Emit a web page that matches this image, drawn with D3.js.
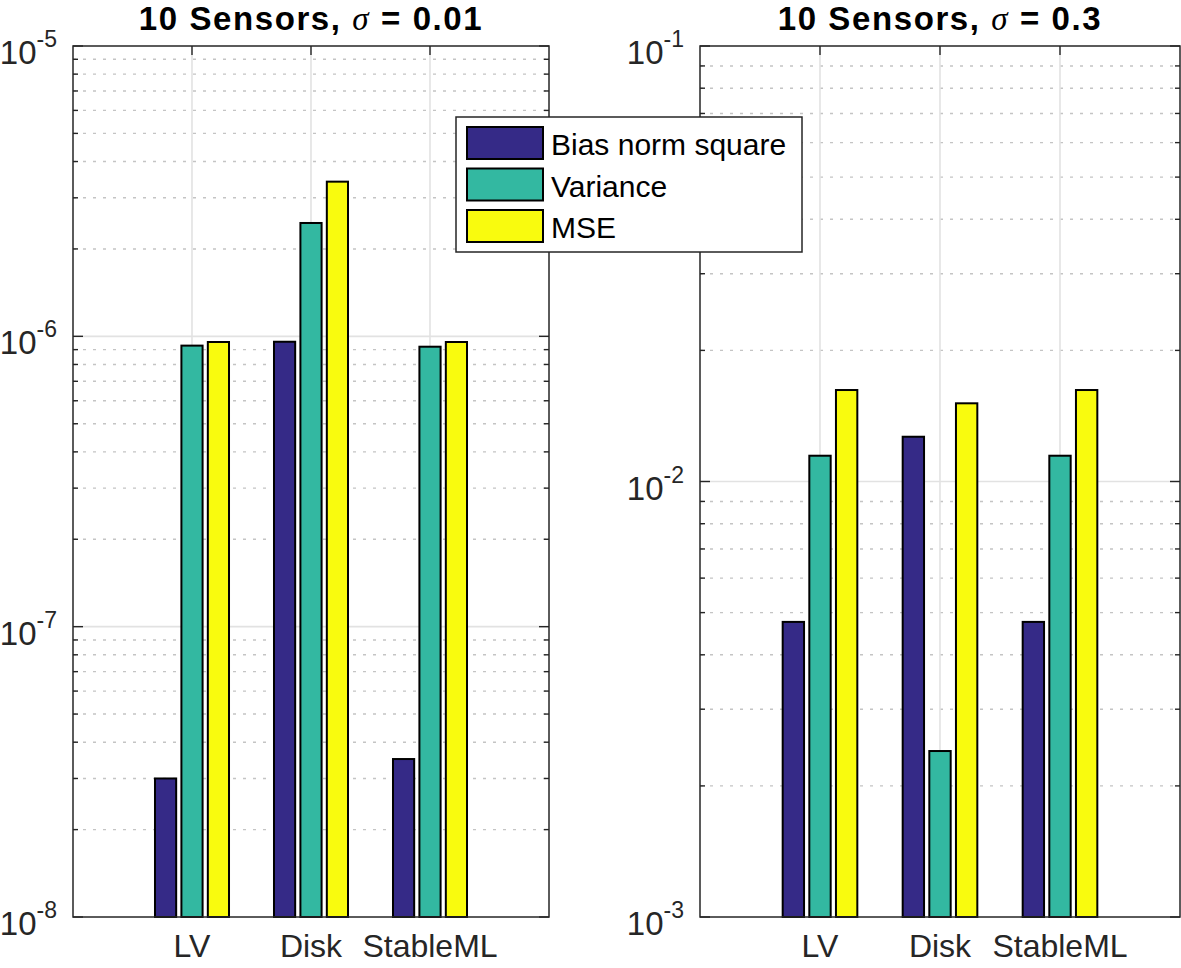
<!DOCTYPE html>
<html><head><meta charset="utf-8">
<script src="https://cdn.jsdelivr.net/npm/d3@7"></script>
<style>html,body{margin:0;padding:0;background:#fff;} svg{display:block;}</style>
</head><body>
<script>
// ---- data ----
const categories = ["LV", "Disk", "StableML"];
const seriesNames = ["Bias norm square", "Variance", "MSE"];
const seriesColors = ["#352a87", "#33b8a1", "#f9fb0e"];

const leftTitle = "0.01";
const leftBias = [3.0e-8, 9.58e-7, 3.5e-8];
const leftVariance = [9.29e-7, 2.457e-6, 9.21e-7];
const leftMSE = [9.56e-7, 3.41e-6, 9.56e-7];
const leftDomain = [1e-8, 1e-5];
const leftTickExps = [-8, -7, -6, -5];

const rightTitle = "0.3";
const rightBias = [4.76e-3, 1.267e-2, 4.76e-3];
const rightVariance = [1.146e-2, 2.405e-3, 1.146e-2];
const rightMSE = [1.622e-2, 1.512e-2, 1.622e-2];
const rightDomain = [1e-3, 1e-1];
const rightTickExps = [-3, -2, -1];

// ---- layout ----
const W = 1181, H = 968;
const svg = d3.select("body").append("svg").attr("width", W).attr("height", H)
  .style("font-family", "'Liberation Sans', Arial, Helvetica, sans-serif");

const panels = [
  {x0: 73, x1: 549, title: leftTitle, data: [leftBias, leftVariance, leftMSE], domain: leftDomain, exps: leftTickExps},
  {x0: 700, x1: 1180, title: rightTitle, data: [rightBias, rightVariance, rightMSE], domain: rightDomain, exps: rightTickExps}
];
const yTop = 46, yBot = 917;
const axisColor = "#262626";

panels.forEach(p => {
  const g = svg.append("g");
  const x = d3.scaleLinear().domain([0, categories.length + 1]).range([p.x0, p.x1]);
  const y = d3.scaleLog().domain(p.domain).range([yBot, yTop]);
  const unit = x(1) - x(0);
  const groupStep = 0.222;
  const barW = 0.178;

  const allTicks = y.ticks();
  const isMajor = v => Math.abs(Math.log10(v) - Math.round(Math.log10(v))) < 1e-9;
  const minor = allTicks.filter(v => !isMajor(v) && v > p.domain[0] && v < p.domain[1]);
  const major = allTicks.filter(v => isMajor(v));

  g.selectAll(".minorGrid").data(minor).join("line")
    .attr("x1", p.x0).attr("x2", p.x1)
    .attr("y1", d => y(d)).attr("y2", d => y(d))
    .attr("stroke", "#c4c4c4").attr("stroke-width", 1.4).attr("stroke-dasharray", "3,7");
  g.selectAll(".majorGrid").data(major.filter(v => v > p.domain[0] && v < p.domain[1])).join("line")
    .attr("x1", p.x0).attr("x2", p.x1)
    .attr("y1", d => y(d)).attr("y2", d => y(d))
    .attr("stroke", "#e2e2e2").attr("stroke-width", 1.6);
  g.selectAll(".vGrid").data(categories).join("line")
    .attr("x1", (d, i) => x(i + 1)).attr("x2", (d, i) => x(i + 1))
    .attr("y1", yTop).attr("y2", yBot)
    .attr("stroke", "#e2e2e2").attr("stroke-width", 1.6);

  [[p.x0, 1], [p.x1, -1]].forEach(([xe, dir]) => {
    g.selectAll(null).data(minor).join("line")
      .attr("x1", xe).attr("x2", xe + dir * 5)
      .attr("y1", d => y(d)).attr("y2", d => y(d))
      .attr("stroke", axisColor).attr("stroke-width", 1.4);
    g.selectAll(null).data(major).join("line")
      .attr("x1", xe).attr("x2", xe + dir * 10)
      .attr("y1", d => y(d)).attr("y2", d => y(d))
      .attr("stroke", axisColor).attr("stroke-width", 1.4);
  });
  [[yTop, 1], [yBot, -1]].forEach(([ye, dir]) => {
    g.selectAll(null).data(categories).join("line")
      .attr("x1", (d, i) => x(i + 1)).attr("x2", (d, i) => x(i + 1))
      .attr("y1", ye).attr("y2", ye + dir * 9)
      .attr("stroke", axisColor).attr("stroke-width", 1.4);
  });

  p.data.forEach((vals, s) => {
    g.selectAll(null).data(vals).join("rect")
      .attr("x", (d, i) => x(i + 1 + (s - 1) * groupStep - barW / 2))
      .attr("width", barW * unit)
      .attr("y", d => y(d))
      .attr("height", d => yBot - y(d))
      .attr("fill", seriesColors[s])
      .attr("stroke", "#000").attr("stroke-width", 2);
  });

  g.append("rect").attr("x", p.x0).attr("y", yTop)
    .attr("width", p.x1 - p.x0).attr("height", yBot - yTop)
    .attr("fill", "none").attr("stroke", axisColor).attr("stroke-width", 1.5);

  p.exps.forEach(e => {
    const yy = y(Math.pow(10, e));
    const t = g.append("text").attr("x", p.x0 - 16).attr("y", yy + 18)
      .attr("text-anchor", "end").attr("fill", axisColor);
    t.append("tspan").attr("font-size", 33).text("10");
    t.append("tspan").attr("font-size", 23).attr("dy", -17).text(String(e));
  });

  g.selectAll(null).data(categories).join("text")
    .attr("x", (d, i) => x(i + 1)).attr("y", 957)
    .attr("text-anchor", "middle").attr("font-size", 32).attr("fill", axisColor)
    .text(d => d);

  const tt = g.append("text").attr("x", (p.x0 + p.x1) / 2).attr("y", 30)
    .attr("text-anchor", "middle").attr("font-size", 33).attr("font-weight", "bold")
    .attr("letter-spacing", 1.6).attr("fill", "#000");
  tt.append("tspan").text("10 Sensors,  ");
  tt.append("tspan").attr("font-family", "'Liberation Serif', 'DejaVu Serif', serif")
    .attr("font-style", "italic").attr("font-weight", "normal").text("σ");
  tt.append("tspan").text(" = " + p.title);
});

// legend
const lg = svg.append("g");
lg.append("rect").attr("x", 456).attr("y", 117).attr("width", 346).attr("height", 135)
  .attr("fill", "#fff").attr("stroke", axisColor).attr("stroke-width", 1.5);
const rowY = d3.scaleLinear().domain([0, 2]).range([127, 210]);
seriesNames.forEach((name, i) => {
  lg.append("rect").attr("x", 467).attr("y", rowY(i)).attr("width", 76).attr("height", 32)
    .attr("fill", seriesColors[i]).attr("stroke", "#000").attr("stroke-width", 2);
  lg.append("text").attr("x", 551).attr("y", rowY(i) + 28).attr("font-size", 30)
    .attr("fill", "#000").text(name);
});
</script>
</body></html>
